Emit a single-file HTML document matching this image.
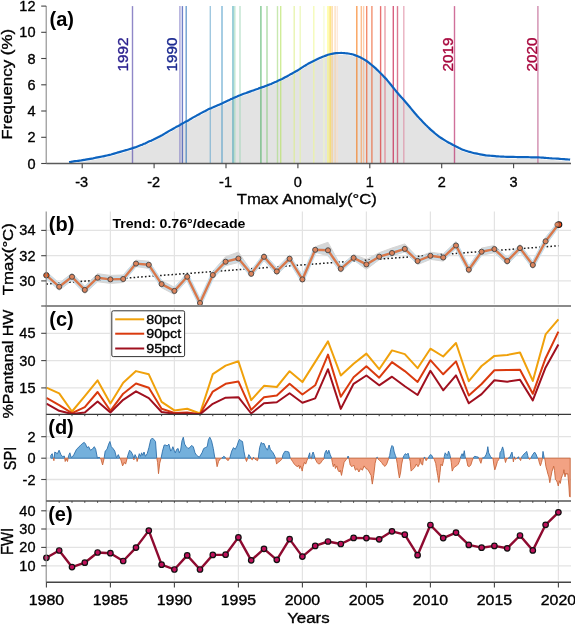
<!DOCTYPE html>
<html><head><meta charset="utf-8"><style>
html,body{margin:0;padding:0;background:#fff;}
svg{display:block;font-family:"Liberation Sans", sans-serif;will-change:transform;}
</style></head><body>
<svg width="575" height="624" viewBox="0 0 575 624">
<rect width="575" height="624" fill="#fff"/>
<path d="M69.1,164.0 C69.6,163.9 71.1,163.7 72.1,163.5 C73.1,163.3 74.1,163.2 75.1,163.0 C76.1,162.9 77.1,162.7 78.1,162.6 C79.1,162.5 80.1,162.3 81.1,162.2 C82.1,162.0 83.1,161.9 84.1,161.7 C85.1,161.5 86.1,161.4 87.1,161.2 C88.1,161.0 89.1,160.8 90.1,160.6 C91.1,160.4 92.1,160.2 93.1,160.1 C94.1,159.9 95.1,159.7 96.1,159.5 C97.1,159.3 98.1,159.1 99.1,158.9 C100.1,158.7 101.1,158.5 102.1,158.3 C103.1,158.1 104.1,158.0 105.1,157.7 C106.1,157.5 107.1,157.3 108.1,157.0 C109.1,156.8 110.1,156.5 111.1,156.3 C112.1,156.0 113.1,155.7 114.1,155.4 C115.1,155.1 116.1,154.8 117.1,154.5 C118.1,154.3 119.1,154.0 120.1,153.7 C121.1,153.4 122.1,153.1 123.1,152.8 C124.1,152.5 125.1,152.2 126.1,151.9 C127.1,151.6 128.1,151.4 129.1,151.1 C130.1,150.8 131.1,150.5 132.1,150.2 C133.1,149.8 134.1,149.5 135.1,149.2 C136.1,148.8 137.1,148.4 138.1,148.0 C139.1,147.7 140.1,147.3 141.1,146.9 C142.1,146.5 143.1,146.0 144.1,145.6 C145.1,145.2 146.1,144.7 147.1,144.3 C148.1,143.9 149.1,143.4 150.1,142.9 C151.1,142.5 152.1,142.0 153.1,141.6 C154.1,141.1 155.1,140.6 156.1,140.1 C157.1,139.6 158.1,139.1 159.1,138.6 C160.1,138.1 161.1,137.5 162.1,137.0 C163.1,136.4 164.1,135.8 165.1,135.2 C166.1,134.6 167.1,134.0 168.1,133.4 C169.1,132.9 170.1,132.3 171.1,131.7 C172.1,131.2 173.1,130.6 174.1,130.0 C175.1,129.5 176.1,128.9 177.1,128.4 C178.1,127.8 179.1,127.2 180.1,126.7 C181.1,126.1 182.1,125.6 183.1,125.0 C184.1,124.5 185.1,123.9 186.1,123.4 C187.1,122.8 188.1,122.2 189.1,121.7 C190.1,121.1 191.1,120.5 192.1,119.9 C193.1,119.4 194.1,118.8 195.1,118.2 C196.1,117.7 197.1,117.1 198.1,116.6 C199.1,116.0 200.1,115.5 201.1,114.9 C202.1,114.4 203.1,113.9 204.1,113.4 C205.1,112.8 206.1,112.3 207.1,111.8 C208.1,111.4 209.1,110.9 210.1,110.4 C211.1,110.0 212.1,109.5 213.1,109.1 C214.1,108.6 215.1,108.2 216.1,107.8 C217.1,107.4 218.1,106.9 219.1,106.5 C220.1,106.1 221.1,105.7 222.1,105.2 C223.1,104.8 224.1,104.4 225.1,103.9 C226.1,103.4 227.1,102.9 228.1,102.4 C229.1,102.0 230.1,101.4 231.1,100.9 C232.1,100.4 233.1,100.0 234.1,99.5 C235.1,99.0 236.1,98.6 237.1,98.2 C238.1,97.7 239.1,97.3 240.1,97.0 C241.1,96.6 242.1,96.2 243.1,95.8 C244.1,95.5 245.1,95.1 246.1,94.8 C247.1,94.4 248.1,94.0 249.1,93.7 C250.1,93.3 251.1,93.0 252.1,92.6 C253.1,92.3 254.1,91.9 255.1,91.5 C256.1,91.2 257.1,90.8 258.1,90.5 C259.1,90.1 260.1,89.8 261.1,89.4 C262.1,89.1 263.1,88.7 264.1,88.4 C265.1,88.0 266.1,87.6 267.1,87.2 C268.1,86.8 269.1,86.5 270.1,86.1 C271.1,85.7 272.1,85.2 273.1,84.8 C274.1,84.4 275.1,83.9 276.1,83.5 C277.1,83.0 278.1,82.6 279.1,82.1 C280.1,81.6 281.1,81.1 282.1,80.7 C283.1,80.2 284.1,79.7 285.1,79.1 C286.1,78.6 287.1,78.1 288.1,77.5 C289.1,77.0 290.1,76.4 291.1,75.9 C292.1,75.3 293.1,74.8 294.1,74.2 C295.1,73.6 296.1,73.1 297.1,72.5 C298.1,71.9 299.1,71.3 300.1,70.6 C301.1,70.0 302.1,69.4 303.1,68.7 C304.1,68.1 305.1,67.4 306.1,66.8 C307.1,66.2 308.1,65.7 309.1,65.1 C310.1,64.6 311.1,64.1 312.1,63.6 C313.1,63.1 314.1,62.6 315.1,62.1 C316.1,61.6 317.1,61.1 318.1,60.6 C319.1,60.1 320.1,59.7 321.1,59.2 C322.1,58.8 323.1,58.3 324.1,58.0 C325.1,57.6 326.1,57.2 327.1,56.9 C328.1,56.5 329.1,56.3 330.1,56.0 C331.1,55.8 332.1,55.6 333.1,55.4 C334.1,55.2 335.1,55.1 336.1,55.0 C337.1,54.9 338.1,54.8 339.1,54.8 C340.1,54.8 341.1,54.7 342.1,54.8 C343.1,54.8 344.1,54.9 345.1,55.0 C346.1,55.0 347.1,55.2 348.1,55.3 C349.1,55.5 350.1,55.6 351.1,55.8 C352.1,56.1 353.1,56.3 354.1,56.7 C355.1,57.0 356.1,57.4 357.1,57.8 C358.1,58.2 359.1,58.6 360.1,59.1 C361.1,59.6 362.1,60.1 363.1,60.7 C364.1,61.3 365.1,61.9 366.1,62.5 C367.1,63.2 368.1,63.9 369.1,64.6 C370.1,65.4 371.1,66.2 372.1,67.1 C373.1,67.9 374.1,68.8 375.1,69.7 C376.1,70.7 377.1,71.6 378.1,72.6 C379.1,73.6 380.1,74.6 381.1,75.6 C382.1,76.6 383.1,77.6 384.1,78.7 C385.1,79.7 386.1,80.8 387.1,81.9 C388.1,83.1 389.1,84.3 390.1,85.5 C391.1,86.7 392.1,88.0 393.1,89.3 C394.1,90.5 395.1,91.8 396.1,93.0 C397.1,94.2 398.1,95.3 399.1,96.5 C400.1,97.6 401.1,98.7 402.1,99.9 C403.1,101.0 404.1,102.1 405.1,103.3 C406.1,104.5 407.1,105.6 408.1,106.8 C409.1,108.0 410.1,109.2 411.1,110.4 C412.1,111.6 413.1,112.8 414.1,114.0 C415.1,115.2 416.1,116.3 417.1,117.5 C418.1,118.6 419.1,119.8 420.1,120.9 C421.1,122.0 422.1,123.0 423.1,124.0 C424.1,125.1 425.1,126.1 426.1,127.1 C427.1,128.0 428.1,129.0 429.1,129.9 C430.1,130.9 431.1,131.8 432.1,132.7 C433.1,133.6 434.1,134.4 435.1,135.3 C436.1,136.1 437.1,136.9 438.1,137.6 C439.1,138.4 440.1,139.1 441.1,139.8 C442.1,140.5 443.1,141.1 444.1,141.7 C445.1,142.4 446.1,142.9 447.1,143.5 C448.1,144.0 449.1,144.5 450.1,145.1 C451.1,145.6 452.1,146.2 453.1,146.8 C454.1,147.3 455.1,147.9 456.1,148.4 C457.1,148.9 458.1,149.4 459.1,149.9 C460.1,150.3 461.1,150.8 462.1,151.2 C463.1,151.6 464.1,151.9 465.1,152.3 C466.1,152.6 467.1,153.0 468.1,153.3 C469.1,153.6 470.1,153.8 471.1,154.1 C472.1,154.4 473.1,154.6 474.1,154.9 C475.1,155.1 476.1,155.3 477.1,155.5 C478.1,155.7 479.1,155.9 480.1,156.1 C481.1,156.3 482.1,156.5 483.1,156.6 C484.1,156.8 485.1,156.9 486.1,157.1 C487.1,157.2 488.1,157.3 489.1,157.4 C490.1,157.5 491.1,157.6 492.1,157.7 C493.1,157.8 494.1,157.9 495.1,158.0 C496.1,158.1 497.1,158.1 498.1,158.2 C499.1,158.3 500.1,158.3 501.1,158.4 C502.1,158.4 503.1,158.4 504.1,158.5 C505.1,158.5 506.1,158.5 507.1,158.6 C508.1,158.6 509.1,158.6 510.1,158.7 C511.1,158.7 512.1,158.7 513.1,158.7 C514.1,158.8 515.1,158.8 516.1,158.8 C517.1,158.8 518.1,158.9 519.1,158.9 C520.1,158.9 521.1,158.9 522.1,158.9 C523.1,158.9 524.1,159.0 525.1,159.0 C526.1,159.0 527.1,159.0 528.1,159.0 C529.1,159.0 530.1,159.1 531.1,159.1 C532.1,159.1 533.1,159.1 534.1,159.1 C535.1,159.2 536.1,159.2 537.1,159.2 C538.1,159.2 539.1,159.3 540.1,159.3 C541.1,159.4 542.1,159.4 543.1,159.5 C544.1,159.6 545.1,159.6 546.1,159.7 C547.1,159.7 548.1,159.8 549.1,159.9 C550.1,159.9 551.1,160.0 552.1,160.1 C553.1,160.1 554.1,160.2 555.1,160.3 C556.1,160.4 557.1,160.5 558.1,160.5 C559.1,160.6 560.1,160.7 561.1,160.8 C562.1,160.8 563.1,160.9 564.1,161.0 C565.1,161.1 566.1,161.2 567.1,161.2 C568.1,161.3 569.6,161.4 570.1,161.5 L570.3,163.5 L69.1,163.5 Z" fill="#e3e3e3" stroke="none"/>
<line x1="132.5" y1="6.1" x2="132.5" y2="163.5" stroke="#5448aa" stroke-width="1.4" stroke-opacity="0.65"/>
<line x1="179.9" y1="6.1" x2="179.9" y2="163.5" stroke="#7973c3" stroke-width="1.4" stroke-opacity="0.65"/>
<line x1="182.4" y1="6.1" x2="182.4" y2="163.5" stroke="#213aaa" stroke-width="1.4" stroke-opacity="0.65"/>
<line x1="186.2" y1="6.1" x2="186.2" y2="163.5" stroke="#216db7" stroke-width="1.4" stroke-opacity="0.65"/>
<line x1="210.3" y1="6.1" x2="210.3" y2="163.5" stroke="#6daacf" stroke-width="1.4" stroke-opacity="0.65"/>
<line x1="222.0" y1="6.1" x2="222.0" y2="163.5" stroke="#3c92c3" stroke-width="1.4" stroke-opacity="0.65"/>
<line x1="233.0" y1="6.1" x2="233.0" y2="163.5" stroke="#2398aa" stroke-width="1.4" stroke-opacity="0.65"/>
<line x1="234.8" y1="6.1" x2="234.8" y2="163.5" stroke="#9ed5b7" stroke-width="1.4" stroke-opacity="0.65"/>
<line x1="240.0" y1="6.1" x2="240.0" y2="163.5" stroke="#9ed5b7" stroke-width="1.4" stroke-opacity="0.65"/>
<line x1="260.9" y1="6.1" x2="260.9" y2="163.5" stroke="#3caa54" stroke-width="1.4" stroke-opacity="0.65"/>
<line x1="267.0" y1="6.1" x2="267.0" y2="163.5" stroke="#85c979" stroke-width="1.4" stroke-opacity="0.65"/>
<line x1="277.5" y1="6.1" x2="277.5" y2="163.5" stroke="#aadc85" stroke-width="1.4" stroke-opacity="0.65"/>
<line x1="280.7" y1="6.1" x2="280.7" y2="163.5" stroke="#b7e261" stroke-width="1.4" stroke-opacity="0.65"/>
<line x1="294.2" y1="6.1" x2="294.2" y2="163.5" stroke="#dcee85" stroke-width="1.4" stroke-opacity="0.65"/>
<line x1="300.2" y1="6.1" x2="300.2" y2="163.5" stroke="#e5f49e" stroke-width="1.4" stroke-opacity="0.65"/>
<line x1="313.8" y1="6.1" x2="313.8" y2="163.5" stroke="#eef792" stroke-width="1.4" stroke-opacity="0.65"/>
<line x1="323.9" y1="6.1" x2="323.9" y2="163.5" stroke="#f1fac3" stroke-width="1.4" stroke-opacity="0.65"/>
<line x1="327.9" y1="6.1" x2="327.9" y2="163.5" stroke="#fdfd67" stroke-width="1.4" stroke-opacity="0.65"/>
<line x1="329.4" y1="6.1" x2="329.4" y2="163.5" stroke="#fde86d" stroke-width="1.4" stroke-opacity="0.65"/>
<line x1="330.6" y1="6.1" x2="330.6" y2="163.5" stroke="#fcd94b" stroke-width="1.4" stroke-opacity="0.65"/>
<line x1="332.2" y1="6.1" x2="332.2" y2="163.5" stroke="#fcc985" stroke-width="1.4" stroke-opacity="0.65"/>
<line x1="335.1" y1="6.1" x2="335.1" y2="163.5" stroke="#fccf9e" stroke-width="1.4" stroke-opacity="0.65"/>
<line x1="337.3" y1="6.1" x2="337.3" y2="163.5" stroke="#fcdfc8" stroke-width="1.4" stroke-opacity="0.65"/>
<line x1="356.8" y1="6.1" x2="356.8" y2="163.5" stroke="#f66d00" stroke-width="1.4" stroke-opacity="0.65"/>
<line x1="361.3" y1="6.1" x2="361.3" y2="163.5" stroke="#fa9e54" stroke-width="1.4" stroke-opacity="0.65"/>
<line x1="363.6" y1="6.1" x2="363.6" y2="163.5" stroke="#fab585" stroke-width="1.4" stroke-opacity="0.65"/>
<line x1="366.7" y1="6.1" x2="366.7" y2="163.5" stroke="#ee4e1d" stroke-width="1.4" stroke-opacity="0.65"/>
<line x1="371.9" y1="6.1" x2="371.9" y2="163.5" stroke="#eb5423" stroke-width="1.4" stroke-opacity="0.65"/>
<line x1="380.6" y1="6.1" x2="380.6" y2="163.5" stroke="#dc2323" stroke-width="1.4" stroke-opacity="0.65"/>
<line x1="385.0" y1="6.1" x2="385.0" y2="163.5" stroke="#df6d79" stroke-width="1.4" stroke-opacity="0.65"/>
<line x1="393.3" y1="6.1" x2="393.3" y2="163.5" stroke="#c30a3c" stroke-width="1.4" stroke-opacity="0.65"/>
<line x1="397.5" y1="6.1" x2="397.5" y2="163.5" stroke="#c92f54" stroke-width="1.4" stroke-opacity="0.65"/>
<line x1="403.8" y1="6.1" x2="403.8" y2="163.5" stroke="#dc859e" stroke-width="1.4" stroke-opacity="0.65"/>
<line x1="454.5" y1="6.1" x2="454.5" y2="163.5" stroke="#b72364" stroke-width="1.4" stroke-opacity="0.65"/>
<line x1="537.9" y1="6.1" x2="537.9" y2="163.5" stroke="#b74e82" stroke-width="1.4" stroke-opacity="0.65"/>
<path d="M69.1,162.2 C69.6,162.1 71.1,161.9 72.1,161.7 C73.1,161.5 74.1,161.4 75.1,161.2 C76.1,161.1 77.1,160.9 78.1,160.8 C79.1,160.7 80.1,160.5 81.1,160.4 C82.1,160.2 83.1,160.1 84.1,159.9 C85.1,159.7 86.1,159.6 87.1,159.4 C88.1,159.2 89.1,159.0 90.1,158.8 C91.1,158.6 92.1,158.4 93.1,158.3 C94.1,158.1 95.1,157.9 96.1,157.7 C97.1,157.5 98.1,157.3 99.1,157.1 C100.1,156.9 101.1,156.7 102.1,156.5 C103.1,156.3 104.1,156.2 105.1,155.9 C106.1,155.7 107.1,155.5 108.1,155.2 C109.1,155.0 110.1,154.7 111.1,154.5 C112.1,154.2 113.1,153.9 114.1,153.6 C115.1,153.3 116.1,153.0 117.1,152.7 C118.1,152.5 119.1,152.2 120.1,151.9 C121.1,151.6 122.1,151.3 123.1,151.0 C124.1,150.7 125.1,150.4 126.1,150.1 C127.1,149.8 128.1,149.6 129.1,149.3 C130.1,149.0 131.1,148.7 132.1,148.4 C133.1,148.0 134.1,147.7 135.1,147.4 C136.1,147.0 137.1,146.6 138.1,146.2 C139.1,145.9 140.1,145.5 141.1,145.1 C142.1,144.7 143.1,144.2 144.1,143.8 C145.1,143.4 146.1,142.9 147.1,142.5 C148.1,142.1 149.1,141.6 150.1,141.1 C151.1,140.7 152.1,140.2 153.1,139.8 C154.1,139.3 155.1,138.8 156.1,138.3 C157.1,137.8 158.1,137.3 159.1,136.8 C160.1,136.3 161.1,135.7 162.1,135.2 C163.1,134.6 164.1,134.0 165.1,133.4 C166.1,132.8 167.1,132.2 168.1,131.6 C169.1,131.1 170.1,130.5 171.1,129.9 C172.1,129.4 173.1,128.8 174.1,128.2 C175.1,127.7 176.1,127.1 177.1,126.6 C178.1,126.0 179.1,125.4 180.1,124.9 C181.1,124.3 182.1,123.8 183.1,123.2 C184.1,122.7 185.1,122.1 186.1,121.6 C187.1,121.0 188.1,120.4 189.1,119.9 C190.1,119.3 191.1,118.7 192.1,118.1 C193.1,117.6 194.1,117.0 195.1,116.4 C196.1,115.9 197.1,115.3 198.1,114.8 C199.1,114.2 200.1,113.7 201.1,113.1 C202.1,112.6 203.1,112.1 204.1,111.6 C205.1,111.0 206.1,110.5 207.1,110.0 C208.1,109.6 209.1,109.1 210.1,108.6 C211.1,108.2 212.1,107.7 213.1,107.3 C214.1,106.8 215.1,106.4 216.1,106.0 C217.1,105.6 218.1,105.1 219.1,104.7 C220.1,104.3 221.1,103.9 222.1,103.4 C223.1,103.0 224.1,102.6 225.1,102.1 C226.1,101.6 227.1,101.1 228.1,100.6 C229.1,100.2 230.1,99.6 231.1,99.1 C232.1,98.6 233.1,98.2 234.1,97.7 C235.1,97.2 236.1,96.8 237.1,96.4 C238.1,95.9 239.1,95.5 240.1,95.2 C241.1,94.8 242.1,94.4 243.1,94.0 C244.1,93.7 245.1,93.3 246.1,93.0 C247.1,92.6 248.1,92.2 249.1,91.9 C250.1,91.5 251.1,91.2 252.1,90.8 C253.1,90.5 254.1,90.1 255.1,89.7 C256.1,89.4 257.1,89.0 258.1,88.7 C259.1,88.3 260.1,88.0 261.1,87.6 C262.1,87.3 263.1,86.9 264.1,86.6 C265.1,86.2 266.1,85.8 267.1,85.4 C268.1,85.0 269.1,84.7 270.1,84.3 C271.1,83.9 272.1,83.4 273.1,83.0 C274.1,82.6 275.1,82.1 276.1,81.7 C277.1,81.2 278.1,80.8 279.1,80.3 C280.1,79.8 281.1,79.3 282.1,78.9 C283.1,78.4 284.1,77.9 285.1,77.3 C286.1,76.8 287.1,76.3 288.1,75.7 C289.1,75.2 290.1,74.6 291.1,74.1 C292.1,73.5 293.1,73.0 294.1,72.4 C295.1,71.8 296.1,71.3 297.1,70.7 C298.1,70.1 299.1,69.5 300.1,68.8 C301.1,68.2 302.1,67.6 303.1,66.9 C304.1,66.3 305.1,65.6 306.1,65.0 C307.1,64.4 308.1,63.9 309.1,63.3 C310.1,62.8 311.1,62.3 312.1,61.8 C313.1,61.3 314.1,60.8 315.1,60.3 C316.1,59.8 317.1,59.3 318.1,58.8 C319.1,58.3 320.1,57.9 321.1,57.4 C322.1,57.0 323.1,56.5 324.1,56.2 C325.1,55.8 326.1,55.4 327.1,55.1 C328.1,54.7 329.1,54.5 330.1,54.2 C331.1,54.0 332.1,53.8 333.1,53.6 C334.1,53.4 335.1,53.3 336.1,53.2 C337.1,53.1 338.1,53.0 339.1,53.0 C340.1,53.0 341.1,52.9 342.1,53.0 C343.1,53.0 344.1,53.1 345.1,53.2 C346.1,53.2 347.1,53.4 348.1,53.5 C349.1,53.7 350.1,53.8 351.1,54.0 C352.1,54.3 353.1,54.5 354.1,54.9 C355.1,55.2 356.1,55.6 357.1,56.0 C358.1,56.4 359.1,56.8 360.1,57.3 C361.1,57.8 362.1,58.3 363.1,58.9 C364.1,59.5 365.1,60.1 366.1,60.7 C367.1,61.4 368.1,62.1 369.1,62.8 C370.1,63.6 371.1,64.4 372.1,65.3 C373.1,66.1 374.1,67.0 375.1,67.9 C376.1,68.9 377.1,69.8 378.1,70.8 C379.1,71.8 380.1,72.8 381.1,73.8 C382.1,74.8 383.1,75.8 384.1,76.9 C385.1,77.9 386.1,79.0 387.1,80.1 C388.1,81.3 389.1,82.5 390.1,83.7 C391.1,84.9 392.1,86.2 393.1,87.5 C394.1,88.7 395.1,90.0 396.1,91.2 C397.1,92.4 398.1,93.5 399.1,94.7 C400.1,95.8 401.1,96.9 402.1,98.1 C403.1,99.2 404.1,100.3 405.1,101.5 C406.1,102.7 407.1,103.8 408.1,105.0 C409.1,106.2 410.1,107.4 411.1,108.6 C412.1,109.8 413.1,111.0 414.1,112.2 C415.1,113.4 416.1,114.5 417.1,115.7 C418.1,116.8 419.1,118.0 420.1,119.1 C421.1,120.2 422.1,121.2 423.1,122.2 C424.1,123.3 425.1,124.3 426.1,125.3 C427.1,126.2 428.1,127.2 429.1,128.1 C430.1,129.1 431.1,130.0 432.1,130.9 C433.1,131.8 434.1,132.6 435.1,133.5 C436.1,134.3 437.1,135.1 438.1,135.8 C439.1,136.6 440.1,137.3 441.1,138.0 C442.1,138.7 443.1,139.3 444.1,139.9 C445.1,140.6 446.1,141.1 447.1,141.7 C448.1,142.2 449.1,142.7 450.1,143.3 C451.1,143.8 452.1,144.4 453.1,145.0 C454.1,145.5 455.1,146.1 456.1,146.6 C457.1,147.1 458.1,147.6 459.1,148.1 C460.1,148.5 461.1,149.0 462.1,149.4 C463.1,149.8 464.1,150.1 465.1,150.5 C466.1,150.8 467.1,151.2 468.1,151.5 C469.1,151.8 470.1,152.0 471.1,152.3 C472.1,152.6 473.1,152.8 474.1,153.1 C475.1,153.3 476.1,153.5 477.1,153.7 C478.1,153.9 479.1,154.1 480.1,154.3 C481.1,154.5 482.1,154.7 483.1,154.8 C484.1,155.0 485.1,155.1 486.1,155.3 C487.1,155.4 488.1,155.5 489.1,155.6 C490.1,155.7 491.1,155.8 492.1,155.9 C493.1,156.0 494.1,156.1 495.1,156.2 C496.1,156.3 497.1,156.3 498.1,156.4 C499.1,156.5 500.1,156.5 501.1,156.6 C502.1,156.6 503.1,156.6 504.1,156.7 C505.1,156.7 506.1,156.7 507.1,156.8 C508.1,156.8 509.1,156.8 510.1,156.9 C511.1,156.9 512.1,156.9 513.1,156.9 C514.1,157.0 515.1,157.0 516.1,157.0 C517.1,157.0 518.1,157.1 519.1,157.1 C520.1,157.1 521.1,157.1 522.1,157.1 C523.1,157.1 524.1,157.2 525.1,157.2 C526.1,157.2 527.1,157.2 528.1,157.2 C529.1,157.2 530.1,157.3 531.1,157.3 C532.1,157.3 533.1,157.3 534.1,157.3 C535.1,157.4 536.1,157.4 537.1,157.4 C538.1,157.4 539.1,157.5 540.1,157.5 C541.1,157.6 542.1,157.6 543.1,157.7 C544.1,157.8 545.1,157.8 546.1,157.9 C547.1,157.9 548.1,158.0 549.1,158.1 C550.1,158.1 551.1,158.2 552.1,158.3 C553.1,158.3 554.1,158.4 555.1,158.5 C556.1,158.6 557.1,158.7 558.1,158.7 C559.1,158.8 560.1,158.9 561.1,159.0 C562.1,159.0 563.1,159.1 564.1,159.2 C565.1,159.3 566.1,159.4 567.1,159.4 C568.1,159.5 569.6,159.6 570.1,159.7" fill="none" stroke="#0d63bf" stroke-width="2.2"/>
<text x="128.0" y="54.4" font-size="14.5" text-anchor="middle" font-weight="normal" fill="#2a1f8e" stroke="#2a1f8e" stroke-width="0.35" transform="rotate(-90 128.0 54.4)" textLength="34" lengthAdjust="spacingAndGlyphs">1992</text>
<text x="177.1" y="54.4" font-size="14.5" text-anchor="middle" font-weight="normal" fill="#1c2b91" stroke="#1c2b91" stroke-width="0.35" transform="rotate(-90 177.1 54.4)" textLength="34" lengthAdjust="spacingAndGlyphs">1990</text>
<text x="453.2" y="54.4" font-size="14.5" text-anchor="middle" font-weight="normal" fill="#a8083e" stroke="#a8083e" stroke-width="0.35" transform="rotate(-90 453.2 54.4)" textLength="34" lengthAdjust="spacingAndGlyphs">2019</text>
<text x="537.1" y="54.4" font-size="14.5" text-anchor="middle" font-weight="normal" fill="#a8083e" stroke="#a8083e" stroke-width="0.35" transform="rotate(-90 537.1 54.4)" textLength="34" lengthAdjust="spacingAndGlyphs">2020</text>
<line x1="46.2" y1="6.1" x2="46.2" y2="163.5" stroke="#8a8a8a" stroke-width="1.1"/>
<line x1="46.2" y1="163.5" x2="571.0" y2="163.5" stroke="#5a5a5a" stroke-width="1.3"/>
<line x1="41.2" y1="163.5" x2="46.2" y2="163.5" stroke="#444" stroke-width="1.1"/>
<text x="35.5" y="168.5" font-size="14.5" text-anchor="end" font-weight="normal" fill="#000" stroke="#000" stroke-width="0.35">0</text>
<line x1="41.2" y1="137.3" x2="46.2" y2="137.3" stroke="#444" stroke-width="1.1"/>
<text x="35.5" y="142.3" font-size="14.5" text-anchor="end" font-weight="normal" fill="#000" stroke="#000" stroke-width="0.35">2</text>
<line x1="41.2" y1="111.0" x2="46.2" y2="111.0" stroke="#444" stroke-width="1.1"/>
<text x="35.5" y="116.0" font-size="14.5" text-anchor="end" font-weight="normal" fill="#000" stroke="#000" stroke-width="0.35">4</text>
<line x1="41.2" y1="84.8" x2="46.2" y2="84.8" stroke="#444" stroke-width="1.1"/>
<text x="35.5" y="89.8" font-size="14.5" text-anchor="end" font-weight="normal" fill="#000" stroke="#000" stroke-width="0.35">6</text>
<line x1="41.2" y1="58.5" x2="46.2" y2="58.5" stroke="#444" stroke-width="1.1"/>
<text x="35.5" y="63.5" font-size="14.5" text-anchor="end" font-weight="normal" fill="#000" stroke="#000" stroke-width="0.35">8</text>
<line x1="41.2" y1="32.3" x2="46.2" y2="32.3" stroke="#444" stroke-width="1.1"/>
<text x="35.5" y="37.3" font-size="14.5" text-anchor="end" font-weight="normal" fill="#000" stroke="#000" stroke-width="0.35">10</text>
<line x1="41.2" y1="6.1" x2="46.2" y2="6.1" stroke="#444" stroke-width="1.1"/>
<text x="35.5" y="11.1" font-size="14.5" text-anchor="end" font-weight="normal" fill="#000" stroke="#000" stroke-width="0.35">12</text>
<line x1="82.2" y1="163.5" x2="82.2" y2="168.3" stroke="#444" stroke-width="1.1"/>
<text x="81.7" y="187.2" font-size="14.5" text-anchor="middle" font-weight="normal" fill="#000" stroke="#000" stroke-width="0.35">-3</text>
<line x1="154.1" y1="163.5" x2="154.1" y2="168.3" stroke="#444" stroke-width="1.1"/>
<text x="153.6" y="187.2" font-size="14.5" text-anchor="middle" font-weight="normal" fill="#000" stroke="#000" stroke-width="0.35">-2</text>
<line x1="226.0" y1="163.5" x2="226.0" y2="168.3" stroke="#444" stroke-width="1.1"/>
<text x="225.5" y="187.2" font-size="14.5" text-anchor="middle" font-weight="normal" fill="#000" stroke="#000" stroke-width="0.35">-1</text>
<line x1="297.9" y1="163.5" x2="297.9" y2="168.3" stroke="#444" stroke-width="1.1"/>
<text x="297.9" y="187.2" font-size="14.5" text-anchor="middle" font-weight="normal" fill="#000" stroke="#000" stroke-width="0.35">0</text>
<line x1="369.8" y1="163.5" x2="369.8" y2="168.3" stroke="#444" stroke-width="1.1"/>
<text x="369.8" y="187.2" font-size="14.5" text-anchor="middle" font-weight="normal" fill="#000" stroke="#000" stroke-width="0.35">1</text>
<line x1="441.7" y1="163.5" x2="441.7" y2="168.3" stroke="#444" stroke-width="1.1"/>
<text x="441.7" y="187.2" font-size="14.5" text-anchor="middle" font-weight="normal" fill="#000" stroke="#000" stroke-width="0.35">2</text>
<line x1="513.6" y1="163.5" x2="513.6" y2="168.3" stroke="#444" stroke-width="1.1"/>
<text x="513.6" y="187.2" font-size="14.5" text-anchor="middle" font-weight="normal" fill="#000" stroke="#000" stroke-width="0.35">3</text>
<text x="306.8" y="204.0" font-size="15.5" text-anchor="middle" font-weight="normal" fill="#000" stroke="#000" stroke-width="0.35" textLength="140" lengthAdjust="spacingAndGlyphs">Tmax Anomaly(°C)</text>
<text x="12.5" y="84.3" font-size="15.5" text-anchor="middle" font-weight="normal" fill="#000" stroke="#000" stroke-width="0.35" transform="rotate(-90 12.5 84.3)" textLength="111" lengthAdjust="spacingAndGlyphs">Frequency (%)</text>
<text x="61.8" y="25.7" font-size="20" text-anchor="middle" font-weight="bold" fill="#000">(a)</text>
<line x1="110.4" y1="211.5" x2="110.4" y2="304.2" stroke="#e3e3e3" stroke-width="1.2"/>
<line x1="174.4" y1="211.5" x2="174.4" y2="304.2" stroke="#e3e3e3" stroke-width="1.2"/>
<line x1="238.4" y1="211.5" x2="238.4" y2="304.2" stroke="#e3e3e3" stroke-width="1.2"/>
<line x1="302.4" y1="211.5" x2="302.4" y2="304.2" stroke="#e3e3e3" stroke-width="1.2"/>
<line x1="366.4" y1="211.5" x2="366.4" y2="304.2" stroke="#e3e3e3" stroke-width="1.2"/>
<line x1="430.4" y1="211.5" x2="430.4" y2="304.2" stroke="#e3e3e3" stroke-width="1.2"/>
<line x1="494.4" y1="211.5" x2="494.4" y2="304.2" stroke="#e3e3e3" stroke-width="1.2"/>
<line x1="558.4" y1="211.5" x2="558.4" y2="304.2" stroke="#e3e3e3" stroke-width="1.2"/>
<line x1="110.4" y1="307.8" x2="110.4" y2="412.6" stroke="#e3e3e3" stroke-width="1.2"/>
<line x1="174.4" y1="307.8" x2="174.4" y2="412.6" stroke="#e3e3e3" stroke-width="1.2"/>
<line x1="238.4" y1="307.8" x2="238.4" y2="412.6" stroke="#e3e3e3" stroke-width="1.2"/>
<line x1="302.4" y1="307.8" x2="302.4" y2="412.6" stroke="#e3e3e3" stroke-width="1.2"/>
<line x1="366.4" y1="307.8" x2="366.4" y2="412.6" stroke="#e3e3e3" stroke-width="1.2"/>
<line x1="430.4" y1="307.8" x2="430.4" y2="412.6" stroke="#e3e3e3" stroke-width="1.2"/>
<line x1="494.4" y1="307.8" x2="494.4" y2="412.6" stroke="#e3e3e3" stroke-width="1.2"/>
<line x1="558.4" y1="307.8" x2="558.4" y2="412.6" stroke="#e3e3e3" stroke-width="1.2"/>
<line x1="110.4" y1="416.2" x2="110.4" y2="499.2" stroke="#e3e3e3" stroke-width="1.2"/>
<line x1="174.4" y1="416.2" x2="174.4" y2="499.2" stroke="#e3e3e3" stroke-width="1.2"/>
<line x1="238.4" y1="416.2" x2="238.4" y2="499.2" stroke="#e3e3e3" stroke-width="1.2"/>
<line x1="302.4" y1="416.2" x2="302.4" y2="499.2" stroke="#e3e3e3" stroke-width="1.2"/>
<line x1="366.4" y1="416.2" x2="366.4" y2="499.2" stroke="#e3e3e3" stroke-width="1.2"/>
<line x1="430.4" y1="416.2" x2="430.4" y2="499.2" stroke="#e3e3e3" stroke-width="1.2"/>
<line x1="494.4" y1="416.2" x2="494.4" y2="499.2" stroke="#e3e3e3" stroke-width="1.2"/>
<line x1="558.4" y1="416.2" x2="558.4" y2="499.2" stroke="#e3e3e3" stroke-width="1.2"/>
<line x1="110.4" y1="502.8" x2="110.4" y2="580.4" stroke="#e3e3e3" stroke-width="1.2"/>
<line x1="174.4" y1="502.8" x2="174.4" y2="580.4" stroke="#e3e3e3" stroke-width="1.2"/>
<line x1="238.4" y1="502.8" x2="238.4" y2="580.4" stroke="#e3e3e3" stroke-width="1.2"/>
<line x1="302.4" y1="502.8" x2="302.4" y2="580.4" stroke="#e3e3e3" stroke-width="1.2"/>
<line x1="366.4" y1="502.8" x2="366.4" y2="580.4" stroke="#e3e3e3" stroke-width="1.2"/>
<line x1="430.4" y1="502.8" x2="430.4" y2="580.4" stroke="#e3e3e3" stroke-width="1.2"/>
<line x1="494.4" y1="502.8" x2="494.4" y2="580.4" stroke="#e3e3e3" stroke-width="1.2"/>
<line x1="558.4" y1="502.8" x2="558.4" y2="580.4" stroke="#e3e3e3" stroke-width="1.2"/>
<line x1="46.4" y1="230.4" x2="571.0" y2="230.4" stroke="#e3e3e3" stroke-width="1.3"/>
<line x1="46.4" y1="255.7" x2="571.0" y2="255.7" stroke="#e3e3e3" stroke-width="1.3"/>
<line x1="46.4" y1="280.9" x2="571.0" y2="280.9" stroke="#e3e3e3" stroke-width="1.3"/>
<line x1="46.4" y1="333.3" x2="571.0" y2="333.3" stroke="#e3e3e3" stroke-width="1.3"/>
<line x1="46.4" y1="360.6" x2="571.0" y2="360.6" stroke="#e3e3e3" stroke-width="1.3"/>
<line x1="46.4" y1="387.9" x2="571.0" y2="387.9" stroke="#e3e3e3" stroke-width="1.3"/>
<line x1="46.4" y1="436.7" x2="571.0" y2="436.7" stroke="#e3e3e3" stroke-width="1.3"/>
<line x1="46.4" y1="458.2" x2="571.0" y2="458.2" stroke="#e3e3e3" stroke-width="1.3"/>
<line x1="46.4" y1="479.5" x2="571.0" y2="479.5" stroke="#e3e3e3" stroke-width="1.3"/>
<line x1="46.4" y1="510.8" x2="571.0" y2="510.8" stroke="#e3e3e3" stroke-width="1.3"/>
<line x1="46.4" y1="529.0" x2="571.0" y2="529.0" stroke="#e3e3e3" stroke-width="1.3"/>
<line x1="46.4" y1="547.4" x2="571.0" y2="547.4" stroke="#e3e3e3" stroke-width="1.3"/>
<line x1="46.4" y1="565.8" x2="571.0" y2="565.8" stroke="#e3e3e3" stroke-width="1.3"/>
<path d="M46.4,271.7 L59.2,283.1 L72.0,273.2 L84.8,286.3 L97.6,273.7 L110.4,275.4 L123.2,275.0 L136.0,260.1 L148.8,261.2 L161.6,280.5 L174.4,287.3 L187.2,273.1 L200.0,299.4 L212.8,271.4 L225.6,256.7 L238.4,252.0 L251.2,270.8 L264.0,253.2 L276.8,267.8 L289.6,255.1 L302.4,275.8 L315.2,246.8 L328.0,242.3 L340.8,265.8 L353.6,254.4 L366.4,259.4 L379.2,252.7 L392.0,248.0 L404.8,243.9 L417.6,257.4 L430.4,252.2 L443.2,253.9 L456.0,241.5 L468.8,266.1 L481.6,248.1 L494.4,245.5 L507.2,257.5 L520.0,244.5 L532.8,261.4 L545.6,237.3 L558.4,221.6 L558.4,227.6 L545.6,245.3 L532.8,268.6 L520.0,251.7 L507.2,264.7 L494.4,252.7 L481.6,255.3 L468.8,273.3 L456.0,248.5 L443.2,261.1 L430.4,259.4 L417.6,264.6 L404.8,251.9 L392.0,256.0 L379.2,259.7 L366.4,269.4 L353.6,259.9 L340.8,272.3 L328.0,255.8 L315.2,252.3 L302.4,283.0 L289.6,262.3 L276.8,275.0 L264.0,260.4 L251.2,276.8 L238.4,262.5 L225.6,265.7 L212.8,278.6 L200.0,306.6 L187.2,280.3 L174.4,294.5 L161.6,287.7 L148.8,268.4 L136.0,266.6 L123.2,282.5 L110.4,283.4 L97.6,281.7 L84.8,293.5 L72.0,280.4 L59.2,290.3 L46.4,278.9 Z" fill="#d6d6d6" stroke="#d6d6d6" stroke-width="1" stroke-linejoin="round"/>
<line x1="46.4" y1="284.0" x2="558.4" y2="245.8" stroke="#1a1a1a" stroke-width="1.5" stroke-dasharray="1.6 2.2"/>
<polyline points="46.4,275.3 59.2,286.7 72.0,276.8 84.8,289.9 97.6,277.7 110.4,279.4 123.2,279.0 136.0,263.6 148.8,264.8 161.6,284.1 174.4,290.9 187.2,276.7 200.0,303.0 212.8,275.0 225.6,261.7 238.4,258.5 251.2,273.8 264.0,256.8 276.8,271.4 289.6,258.7 302.4,279.4 315.2,249.8 328.0,250.3 340.8,268.8 353.6,257.9 366.4,264.4 379.2,256.7 392.0,253.0 404.8,248.9 417.6,261.0 430.4,255.8 443.2,257.5 456.0,245.5 468.8,269.7 481.6,251.7 494.4,249.1 507.2,261.1 520.0,248.1 532.8,265.0 545.6,241.3 558.4,224.6" fill="none" stroke="#c6dfed" stroke-width="5.0" stroke-linejoin="round"/>
<polyline points="46.4,275.3 59.2,286.7 72.0,276.8 84.8,289.9 97.6,277.7 110.4,279.4 123.2,279.0 136.0,263.6 148.8,264.8 161.6,284.1 174.4,290.9 187.2,276.7 200.0,303.0 212.8,275.0 225.6,261.7 238.4,258.5 251.2,273.8 264.0,256.8 276.8,271.4 289.6,258.7 302.4,279.4 315.2,249.8 328.0,250.3 340.8,268.8 353.6,257.9 366.4,264.4 379.2,256.7 392.0,253.0 404.8,248.9 417.6,261.0 430.4,255.8 443.2,257.5 456.0,245.5 468.8,269.7 481.6,251.7 494.4,249.1 507.2,261.1 520.0,248.1 532.8,265.0 545.6,241.3 558.4,224.6" fill="none" stroke="#d9784b" stroke-width="2.4" stroke-linejoin="round"/>
<circle cx="46.4" cy="275.3" r="2.7" fill="#f05a18" stroke="#3a3a3a" stroke-width="1"/>
<circle cx="59.2" cy="286.7" r="2.55" fill="#dc845c" stroke="#4a4a4a" stroke-width="0.95"/>
<circle cx="72.0" cy="276.8" r="2.55" fill="#dc845c" stroke="#4a4a4a" stroke-width="0.95"/>
<circle cx="84.8" cy="289.9" r="2.55" fill="#dc845c" stroke="#4a4a4a" stroke-width="0.95"/>
<circle cx="97.6" cy="277.7" r="2.55" fill="#dc845c" stroke="#4a4a4a" stroke-width="0.95"/>
<circle cx="110.4" cy="279.4" r="2.55" fill="#dc845c" stroke="#4a4a4a" stroke-width="0.95"/>
<circle cx="123.2" cy="279.0" r="2.55" fill="#dc845c" stroke="#4a4a4a" stroke-width="0.95"/>
<circle cx="136.0" cy="263.6" r="2.55" fill="#dc845c" stroke="#4a4a4a" stroke-width="0.95"/>
<circle cx="148.8" cy="264.8" r="2.55" fill="#dc845c" stroke="#4a4a4a" stroke-width="0.95"/>
<circle cx="161.6" cy="284.1" r="2.55" fill="#dc845c" stroke="#4a4a4a" stroke-width="0.95"/>
<circle cx="174.4" cy="290.9" r="2.55" fill="#dc845c" stroke="#4a4a4a" stroke-width="0.95"/>
<circle cx="187.2" cy="276.7" r="2.55" fill="#dc845c" stroke="#4a4a4a" stroke-width="0.95"/>
<circle cx="200.0" cy="303.0" r="2.55" fill="#dc845c" stroke="#4a4a4a" stroke-width="0.95"/>
<circle cx="212.8" cy="275.0" r="2.55" fill="#dc845c" stroke="#4a4a4a" stroke-width="0.95"/>
<circle cx="225.6" cy="261.7" r="2.55" fill="#dc845c" stroke="#4a4a4a" stroke-width="0.95"/>
<circle cx="238.4" cy="258.5" r="2.55" fill="#dc845c" stroke="#4a4a4a" stroke-width="0.95"/>
<circle cx="251.2" cy="273.8" r="2.55" fill="#dc845c" stroke="#4a4a4a" stroke-width="0.95"/>
<circle cx="264.0" cy="256.8" r="2.55" fill="#dc845c" stroke="#4a4a4a" stroke-width="0.95"/>
<circle cx="276.8" cy="271.4" r="2.55" fill="#dc845c" stroke="#4a4a4a" stroke-width="0.95"/>
<circle cx="289.6" cy="258.7" r="2.55" fill="#dc845c" stroke="#4a4a4a" stroke-width="0.95"/>
<circle cx="302.4" cy="279.4" r="2.55" fill="#dc845c" stroke="#4a4a4a" stroke-width="0.95"/>
<circle cx="315.2" cy="249.8" r="2.55" fill="#dc845c" stroke="#4a4a4a" stroke-width="0.95"/>
<circle cx="328.0" cy="250.3" r="2.55" fill="#dc845c" stroke="#4a4a4a" stroke-width="0.95"/>
<circle cx="340.8" cy="268.8" r="2.55" fill="#dc845c" stroke="#4a4a4a" stroke-width="0.95"/>
<circle cx="353.6" cy="257.9" r="2.55" fill="#dc845c" stroke="#4a4a4a" stroke-width="0.95"/>
<circle cx="366.4" cy="264.4" r="2.55" fill="#dc845c" stroke="#4a4a4a" stroke-width="0.95"/>
<circle cx="379.2" cy="256.7" r="2.55" fill="#dc845c" stroke="#4a4a4a" stroke-width="0.95"/>
<circle cx="392.0" cy="253.0" r="2.55" fill="#dc845c" stroke="#4a4a4a" stroke-width="0.95"/>
<circle cx="404.8" cy="248.9" r="2.55" fill="#dc845c" stroke="#4a4a4a" stroke-width="0.95"/>
<circle cx="417.6" cy="261.0" r="2.55" fill="#dc845c" stroke="#4a4a4a" stroke-width="0.95"/>
<circle cx="430.4" cy="255.8" r="2.55" fill="#dc845c" stroke="#4a4a4a" stroke-width="0.95"/>
<circle cx="443.2" cy="257.5" r="2.55" fill="#dc845c" stroke="#4a4a4a" stroke-width="0.95"/>
<circle cx="456.0" cy="245.5" r="2.55" fill="#dc845c" stroke="#4a4a4a" stroke-width="0.95"/>
<circle cx="468.8" cy="269.7" r="2.55" fill="#dc845c" stroke="#4a4a4a" stroke-width="0.95"/>
<circle cx="481.6" cy="251.7" r="2.55" fill="#dc845c" stroke="#4a4a4a" stroke-width="0.95"/>
<circle cx="494.4" cy="249.1" r="2.55" fill="#dc845c" stroke="#4a4a4a" stroke-width="0.95"/>
<circle cx="507.2" cy="261.1" r="2.55" fill="#dc845c" stroke="#4a4a4a" stroke-width="0.95"/>
<circle cx="520.0" cy="248.1" r="2.55" fill="#dc845c" stroke="#4a4a4a" stroke-width="0.95"/>
<circle cx="532.8" cy="265.0" r="2.55" fill="#dc845c" stroke="#4a4a4a" stroke-width="0.95"/>
<circle cx="545.6" cy="241.3" r="2.55" fill="#dc845c" stroke="#4a4a4a" stroke-width="0.95"/>
<circle cx="558.9" cy="224.6" r="2.9" fill="#ff4a10" stroke="#1a1a1a" stroke-width="1.1"/>
<circle cx="557.1" cy="224.6" r="2.3" fill="#dc845c" stroke="#555" stroke-width="0.6"/>
<text x="178.9" y="228.2" font-size="12.2" text-anchor="middle" font-weight="bold" fill="#000" textLength="133" lengthAdjust="spacingAndGlyphs">Trend: 0.76°/decade</text>
<text x="61.6" y="230.5" font-size="20" text-anchor="middle" font-weight="bold" fill="#000">(b)</text>
<clipPath id="cc"><rect x="46" y="306" width="526" height="108.4"/></clipPath>
<polyline points="46.4,387.7 59.2,393.3 72.0,411.5 84.8,396.2 97.6,380.4 110.4,403.5 123.2,382.8 136.0,371.1 148.8,374.3 161.6,401.8 174.4,410.4 187.2,408.7 200.0,413.5 212.8,374.1 225.6,365.6 238.4,361.2 251.2,400.1 264.0,385.8 276.8,387.0 289.6,371.2 302.4,382.1 315.2,361.9 328.0,341.4 340.8,375.5 353.6,363.8 366.4,353.6 379.2,369.2 392.0,350.4 404.8,354.1 417.6,368.2 430.4,348.7 443.2,356.5 456.0,343.0 468.8,381.2 481.6,366.0 494.4,355.9 507.2,355.0 520.0,352.5 532.8,380.9 545.6,334.4 558.4,319.3" fill="none" stroke="#f0a10b" stroke-width="2" stroke-linejoin="round" clip-path="url(#cc)"/>
<polyline points="46.4,397.9 59.2,405.2 72.0,413.2 84.8,407.1 97.6,392.0 110.4,410.8 123.2,393.7 136.0,383.5 148.8,387.7 161.6,408.8 174.4,412.9 187.2,412.6 200.0,414.3 212.8,391.6 225.6,383.8 238.4,381.4 251.2,409.9 264.0,397.2 276.8,395.5 289.6,383.8 302.4,394.5 315.2,385.3 328.0,354.6 340.8,396.7 353.6,377.2 366.4,366.3 379.2,377.7 392.0,362.1 404.8,371.1 417.6,381.9 430.4,360.2 443.2,374.3 456.0,361.4 468.8,395.5 481.6,384.0 494.4,370.3 507.2,370.0 520.0,369.7 532.8,393.8 545.6,358.2 558.4,331.6" fill="none" stroke="#da3a0e" stroke-width="2" stroke-linejoin="round" clip-path="url(#cc)"/>
<polyline points="46.4,403.5 59.2,410.8 72.0,414.0 84.8,412.5 97.6,401.5 110.4,412.5 123.2,399.8 136.0,391.3 148.8,398.1 161.6,412.0 174.4,413.7 187.2,413.5 200.0,414.3 212.8,403.8 225.6,397.7 238.4,397.2 251.2,413.5 264.0,403.3 276.8,402.3 289.6,393.3 302.4,402.8 315.2,398.4 328.0,369.2 340.8,408.9 353.6,383.8 366.4,375.5 379.2,385.3 392.0,376.7 404.8,386.2 417.6,395.0 430.4,370.8 443.2,390.3 456.0,375.4 468.8,403.3 481.6,394.1 494.4,380.3 507.2,381.7 520.0,379.7 532.8,400.4 545.6,367.4 558.4,344.4" fill="none" stroke="#a0101f" stroke-width="2" stroke-linejoin="round" clip-path="url(#cc)"/>
<rect x="111.8" y="310.8" width="72.8" height="45.8" rx="1.5" fill="#fff" stroke="#333" stroke-width="1"/>
<line x1="115.2" y1="319.3" x2="144.2" y2="319.3" stroke="#f0a10b" stroke-width="2"/>
<text x="146.2" y="323.9" font-size="12.6" text-anchor="start" font-weight="normal" fill="#000" stroke="#000" stroke-width="0.35" textLength="35" lengthAdjust="spacingAndGlyphs">80pct</text>
<line x1="115.2" y1="333.7" x2="144.2" y2="333.7" stroke="#da3a0e" stroke-width="2"/>
<text x="146.2" y="338.3" font-size="12.6" text-anchor="start" font-weight="normal" fill="#000" stroke="#000" stroke-width="0.35" textLength="35" lengthAdjust="spacingAndGlyphs">90pct</text>
<line x1="115.2" y1="348.5" x2="144.2" y2="348.5" stroke="#a0101f" stroke-width="2"/>
<text x="146.2" y="353.1" font-size="12.6" text-anchor="start" font-weight="normal" fill="#000" stroke="#000" stroke-width="0.35" textLength="35" lengthAdjust="spacingAndGlyphs">95pct</text>
<text x="61.5" y="325.8" font-size="20" text-anchor="middle" font-weight="bold" fill="#000">(c)</text>
<path d="M50.8,458.2 L50.8,455.4 L52.2,453.7 L53.0,457.2 L53.3,458.2Z M54.2,458.2 L54.8,452.0 L56.0,452.8 L57.4,453.7 L59.1,450.2 L60.9,454.6 L62.6,456.7 L64.3,456.0 L64.7,458.2Z M68.1,458.2 L68.7,455.4 L69.9,452.8 L71.0,457.2 L72.2,457.2 L73.9,454.6 L76.5,449.3 L80.0,445.9 L82.6,443.3 L84.3,442.4 L85.6,444.1 L87.0,447.6 L88.7,446.7 L90.4,450.2 L92.2,449.3 L94.3,446.7 L95.7,449.3 L97.4,458.0 L99.1,457.2 L100.2,458.2Z M104.1,458.2 L105.2,451.1 L107.0,449.3 L108.7,444.1 L109.9,441.5 L111.3,446.7 L113.0,448.5 L114.8,451.1 L116.5,457.7 L118.3,454.6 L119.7,458.0 L119.8,458.2Z M127.1,458.2 L127.8,455.4 L129.6,450.2 L131.3,452.0 L133.0,455.4 L133.6,458.2Z M134.2,458.2 L135.0,454.6 L136.4,457.2 L136.6,458.2Z M138.1,458.2 L138.1,458.0 L139.3,453.7 L140.6,456.3 L141.6,452.8 L142.8,455.4 L144.0,452.0 L145.4,456.3 L147.2,453.7 L148.9,447.6 L150.7,439.8 L152.4,438.0 L154.1,439.8 L155.5,441.5 L156.7,458.0 L156.8,458.2Z M161.0,458.2 L161.1,458.0 L162.5,451.1 L164.2,445.0 L165.4,445.0 L167.2,445.9 L168.9,444.1 L170.7,451.1 L171.9,449.3 L172.9,446.7 L174.1,450.2 L175.3,452.8 L176.7,449.3 L178.1,448.5 L179.3,452.8 L180.6,450.2 L182.0,440.7 L183.3,437.2 L184.6,444.1 L186.3,446.7 L188.0,448.5 L189.8,447.6 L191.5,445.5 L193.3,446.7 L195.0,452.8 L196.7,455.4 L199.3,457.2 L202.0,452.8 L203.7,448.5 L205.4,447.6 L207.2,446.7 L208.4,439.8 L209.8,437.2 L211.5,440.7 L213.3,448.5 L214.7,457.2 L215.4,458.2Z M221.6,458.2 L222.0,458.0 L223.7,456.3 L225.1,457.2 L225.8,458.2Z M229.7,458.2 L229.8,458.0 L230.0,457.2 L231.7,451.1 L233.5,447.6 L235.2,449.3 L237.0,445.9 L238.7,440.7 L239.6,439.3 L240.8,440.7 L242.5,441.5 L243.9,451.1 L245.3,458.0 L245.4,458.2Z M247.6,458.2 L248.8,454.6 L250.0,456.3 L250.9,458.2Z M253.0,458.2 L253.5,457.2 L254.2,458.2Z M258.3,458.2 L258.3,458.0 L259.6,447.6 L261.3,442.4 L262.7,444.1 L263.9,443.3 L265.7,447.6 L267.4,450.2 L269.1,445.0 L270.3,449.3 L271.7,451.1 L273.1,452.8 L274.9,456.3 L275.5,458.2Z M282.1,458.2 L282.2,458.0 L283.0,454.6 L284.8,451.4 L286.5,451.4 L288.8,452.0 L290.0,457.2 L290.5,458.2Z M307.9,458.2 L308.3,457.2 L309.7,452.8 L310.3,458.0 L310.5,458.2Z M311.5,458.2 L312.1,454.6 L313.1,452.0 L314.3,455.4 L315.0,458.2Z M324.0,458.2 L325.0,452.8 L326.4,450.2 L327.6,453.7 L328.8,450.2 L330.2,454.6 L331.6,458.0 L331.6,458.2Z M347.3,458.2 L348.1,456.0 L348.9,458.2Z M376.3,458.2 L376.3,458.0 L377.2,457.2 L377.7,458.2Z M388.7,458.2 L389.7,455.4 L390.7,449.3 L392.0,445.5 L393.2,446.7 L394.2,452.0 L395.4,455.4 L396.3,458.0 L396.3,458.2Z M402.9,458.2 L402.9,458.0 L404.1,455.4 L405.3,453.7 L406.7,454.6 L408.1,453.2 L409.3,458.0 L409.4,458.2Z M423.5,458.2 L423.5,458.0 L424.9,457.2 L425.2,458.2Z M427.9,458.2 L428.7,457.2 L430.4,454.6 L431.8,455.4 L433.0,458.0 L433.2,458.2Z M444.0,458.2 L444.3,456.3 L445.2,452.8 L446.4,454.6 L447.5,455.4 L448.5,451.1 L449.6,453.7 L450.6,458.0 L450.6,458.2Z M460.3,458.2 L460.9,456.3 L462.1,453.7 L463.1,456.3 L464.3,450.7 L465.2,457.2 L465.8,458.2Z M473.2,458.2 L473.6,457.2 L474.8,456.3 L476.5,456.7 L478.3,457.2 L478.7,458.2Z M482.2,458.2 L482.3,458.0 L483.5,457.7 L484.7,457.2 L486.1,454.6 L487.0,452.0 L487.8,446.7 L488.7,452.8 L490.4,456.3 L491.7,458.0 L492.3,458.2Z M499.2,458.2 L499.7,457.2 L500.0,452.7 L501.3,450.8 L502.6,446.9 L503.7,450.8 L504.5,458.2Z M508.1,458.2 L509.8,457.3 L511.1,454.0 L512.0,452.1 L512.8,457.3 L512.9,458.2Z M514.1,458.2 L514.3,456.7 L515.0,458.2Z M517.1,458.2 L517.6,458.0 L518.5,456.7 L519.2,458.2Z M521.3,458.2 L521.5,457.3 L522.8,455.4 L524.1,454.0 L525.4,452.7 L526.7,451.4 L527.7,455.4 L528.4,458.2Z M530.7,458.2 L531.3,457.3 L532.6,454.7 L534.6,452.1 L535.9,454.0 L537.2,457.3 L537.9,458.2Z M542.4,458.2 L543.0,451.4 L544.1,457.3 L544.4,458.2Z " fill="#74b0dc" stroke="#2c6fab" stroke-width="0.9" stroke-linejoin="round"/>
<path d="M53.3,458.2 L53.9,460.7 L54.2,458.2Z M64.7,458.2 L65.2,461.5 L66.1,458.9 L67.5,461.5 L68.1,458.2Z M100.2,458.2 L100.9,458.9 L102.6,465.0 L104.0,458.9 L104.1,458.2Z M119.8,458.2 L120.9,459.8 L122.6,465.9 L124.3,462.4 L125.6,464.1 L127.0,458.9 L127.1,458.2Z M133.6,458.2 L133.9,459.8 L134.2,458.2Z M136.6,458.2 L137.1,461.5 L138.1,458.2Z M156.8,458.2 L157.6,462.4 L158.5,473.7 L159.7,463.3 L161.0,458.2Z M215.4,458.2 L215.9,458.9 L217.1,466.7 L218.5,461.5 L220.2,458.9 L221.6,458.2Z M225.8,458.2 L226.3,458.9 L228.0,460.7 L229.7,458.2Z M245.4,458.2 L246.5,461.5 L247.4,458.9 L247.6,458.2Z M250.9,458.2 L251.2,458.9 L252.3,459.8 L253.0,458.2Z M254.2,458.2 L254.7,458.9 L256.1,459.8 L257.5,460.7 L258.3,458.2Z M275.5,458.2 L275.6,458.4 L276.6,464.1 L277.8,462.4 L279.6,461.5 L281.3,459.8 L282.1,458.2Z M290.5,458.2 L290.9,458.9 L292.6,461.5 L294.3,464.1 L296.1,465.9 L297.8,466.7 L298.7,465.0 L299.6,468.5 L300.4,465.9 L301.7,469.3 L302.2,471.1 L303.0,466.7 L304.4,462.4 L305.7,464.1 L306.9,460.7 L307.9,458.2Z M310.5,458.2 L311.4,458.9 L311.5,458.2Z M315.0,458.2 L315.2,458.9 L317.0,462.4 L318.7,464.1 L320.4,463.3 L322.2,460.7 L323.9,458.9 L324.0,458.2Z M331.6,458.2 L332.3,462.4 L333.3,466.7 L334.6,464.1 L335.4,468.5 L336.8,465.9 L338.0,470.2 L339.3,472.0 L340.3,470.2 L341.5,475.4 L342.7,469.3 L344.1,462.4 L345.9,459.8 L347.3,458.4 L347.3,458.2Z M348.9,458.2 L349.0,458.4 L350.2,465.0 L352.0,466.7 L353.7,465.0 L355.4,470.2 L357.2,468.5 L358.9,472.0 L360.7,468.5 L362.4,470.2 L364.1,465.9 L365.9,468.5 L367.6,469.3 L369.3,472.0 L371.1,475.4 L372.3,484.1 L373.7,475.4 L375.1,463.3 L376.3,458.2Z M377.7,458.2 L378.0,458.9 L379.8,460.7 L381.5,462.4 L383.3,465.0 L385.0,466.4 L386.7,464.1 L388.5,458.9 L388.7,458.2Z M396.3,458.2 L397.2,463.3 L398.4,472.0 L399.4,478.0 L400.7,472.0 L401.5,465.0 L402.9,458.2Z M409.4,458.2 L410.2,461.5 L411.1,471.1 L412.8,469.3 L414.6,467.6 L416.3,464.1 L418.0,466.7 L419.8,463.3 L420.0,458.9 L421.4,464.1 L422.6,465.0 L423.5,458.2Z M425.2,458.2 L426.1,460.7 L427.3,458.9 L427.9,458.2Z M433.2,458.2 L434.3,459.4 L435.7,463.3 L436.5,468.5 L437.7,475.4 L438.8,482.4 L440.0,472.8 L440.9,464.1 L442.3,465.9 L443.5,460.7 L444.0,458.2Z M450.6,458.2 L451.3,462.4 L452.2,471.1 L453.4,468.5 L454.8,466.7 L456.5,465.9 L458.3,464.1 L459.7,460.7 L460.3,458.2Z M465.8,458.2 L466.6,459.8 L467.8,465.9 L469.2,466.7 L470.8,465.0 L472.2,460.7 L473.2,458.2Z M478.7,458.2 L479.5,459.8 L480.9,463.3 L482.2,458.2Z M492.3,458.2 L493.0,458.4 L493.9,465.0 L494.8,469.9 L496.2,465.9 L497.4,461.5 L498.6,459.8 L499.2,458.2Z M504.5,458.2 L504.6,458.4 L505.5,462.5 L506.5,459.3 L507.8,458.4 L508.1,458.2Z M512.9,458.2 L513.4,461.9 L514.1,458.2Z M515.0,458.2 L515.4,459.3 L516.3,458.6 L517.1,458.2Z M519.2,458.2 L519.6,458.9 L520.6,460.6 L521.3,458.2Z M528.4,458.2 L528.4,458.4 L529.3,459.3 L530.3,458.9 L530.7,458.2Z M537.9,458.2 L538.5,458.9 L539.1,461.9 L540.4,465.8 L541.5,462.5 L542.4,458.6 L542.4,458.2Z M544.4,458.2 L545.0,459.9 L545.9,466.4 L547.0,470.4 L548.0,474.3 L548.9,476.9 L549.8,482.7 L550.9,476.9 L551.9,471.7 L552.8,469.0 L553.7,466.2 L554.5,470.4 L555.4,479.5 L556.3,480.1 L557.4,482.7 L558.3,486.0 L559.3,480.8 L560.3,483.4 L561.3,478.2 L562.3,475.6 L563.3,473.6 L563.9,469.7 L565.0,476.9 L565.9,473.0 L566.8,474.3 L567.8,473.6 L568.9,486.0 L569.5,496.4 L570.2,497.1 L570.2,458.2Z " fill="#f2a283" stroke="#c8653a" stroke-width="0.9" stroke-linejoin="round"/>
<text x="61.0" y="434.0" font-size="20" text-anchor="middle" font-weight="bold" fill="#000">(d)</text>
<polyline points="46.4,557.8 59.2,550.5 72.0,567.1 84.8,562.7 97.6,552.5 110.4,553.2 123.2,561.0 136.0,547.6 148.8,530.6 161.6,564.7 174.4,569.5 187.2,555.4 200.0,569.5 212.8,554.9 225.6,554.7 238.4,537.4 251.2,560.3 264.0,548.8 276.8,559.8 289.6,539.1 302.4,556.6 315.2,545.9 328.0,541.5 340.8,544.0 353.6,537.9 366.4,538.1 379.2,539.3 392.0,531.3 404.8,534.7 417.6,555.2 430.4,525.0 443.2,538.1 456.0,532.6 468.8,544.9 481.6,547.7 494.4,545.9 507.2,548.3 520.0,535.5 532.8,550.4 545.6,524.8 558.4,512.3" fill="none" stroke="#8e0a30" stroke-width="2.4" stroke-linejoin="round"/>
<circle cx="46.4" cy="557.8" r="2.75" fill="#c0105a" stroke="#111" stroke-width="1.2"/>
<circle cx="59.2" cy="550.5" r="2.75" fill="#c0105a" stroke="#111" stroke-width="1.2"/>
<circle cx="72.0" cy="567.1" r="2.75" fill="#c0105a" stroke="#111" stroke-width="1.2"/>
<circle cx="84.8" cy="562.7" r="2.75" fill="#c0105a" stroke="#111" stroke-width="1.2"/>
<circle cx="97.6" cy="552.5" r="2.75" fill="#c0105a" stroke="#111" stroke-width="1.2"/>
<circle cx="110.4" cy="553.2" r="2.75" fill="#c0105a" stroke="#111" stroke-width="1.2"/>
<circle cx="123.2" cy="561.0" r="2.75" fill="#c0105a" stroke="#111" stroke-width="1.2"/>
<circle cx="136.0" cy="547.6" r="2.75" fill="#c0105a" stroke="#111" stroke-width="1.2"/>
<circle cx="148.8" cy="530.6" r="2.75" fill="#c0105a" stroke="#111" stroke-width="1.2"/>
<circle cx="161.6" cy="564.7" r="2.75" fill="#c0105a" stroke="#111" stroke-width="1.2"/>
<circle cx="174.4" cy="569.5" r="2.75" fill="#c0105a" stroke="#111" stroke-width="1.2"/>
<circle cx="187.2" cy="555.4" r="2.75" fill="#c0105a" stroke="#111" stroke-width="1.2"/>
<circle cx="200.0" cy="569.5" r="2.75" fill="#c0105a" stroke="#111" stroke-width="1.2"/>
<circle cx="212.8" cy="554.9" r="2.75" fill="#c0105a" stroke="#111" stroke-width="1.2"/>
<circle cx="225.6" cy="554.7" r="2.75" fill="#c0105a" stroke="#111" stroke-width="1.2"/>
<circle cx="238.4" cy="537.4" r="2.75" fill="#c0105a" stroke="#111" stroke-width="1.2"/>
<circle cx="251.2" cy="560.3" r="2.75" fill="#c0105a" stroke="#111" stroke-width="1.2"/>
<circle cx="264.0" cy="548.8" r="2.75" fill="#c0105a" stroke="#111" stroke-width="1.2"/>
<circle cx="276.8" cy="559.8" r="2.75" fill="#c0105a" stroke="#111" stroke-width="1.2"/>
<circle cx="289.6" cy="539.1" r="2.75" fill="#c0105a" stroke="#111" stroke-width="1.2"/>
<circle cx="302.4" cy="556.6" r="2.75" fill="#c0105a" stroke="#111" stroke-width="1.2"/>
<circle cx="315.2" cy="545.9" r="2.75" fill="#c0105a" stroke="#111" stroke-width="1.2"/>
<circle cx="328.0" cy="541.5" r="2.75" fill="#c0105a" stroke="#111" stroke-width="1.2"/>
<circle cx="340.8" cy="544.0" r="2.75" fill="#c0105a" stroke="#111" stroke-width="1.2"/>
<circle cx="353.6" cy="537.9" r="2.75" fill="#c0105a" stroke="#111" stroke-width="1.2"/>
<circle cx="366.4" cy="538.1" r="2.75" fill="#c0105a" stroke="#111" stroke-width="1.2"/>
<circle cx="379.2" cy="539.3" r="2.75" fill="#c0105a" stroke="#111" stroke-width="1.2"/>
<circle cx="392.0" cy="531.3" r="2.75" fill="#c0105a" stroke="#111" stroke-width="1.2"/>
<circle cx="404.8" cy="534.7" r="2.75" fill="#c0105a" stroke="#111" stroke-width="1.2"/>
<circle cx="417.6" cy="555.2" r="2.75" fill="#c0105a" stroke="#111" stroke-width="1.2"/>
<circle cx="430.4" cy="525.0" r="2.75" fill="#c0105a" stroke="#111" stroke-width="1.2"/>
<circle cx="443.2" cy="538.1" r="2.75" fill="#c0105a" stroke="#111" stroke-width="1.2"/>
<circle cx="456.0" cy="532.6" r="2.75" fill="#c0105a" stroke="#111" stroke-width="1.2"/>
<circle cx="468.8" cy="544.9" r="2.75" fill="#c0105a" stroke="#111" stroke-width="1.2"/>
<circle cx="481.6" cy="547.7" r="2.75" fill="#c0105a" stroke="#111" stroke-width="1.2"/>
<circle cx="494.4" cy="545.9" r="2.75" fill="#c0105a" stroke="#111" stroke-width="1.2"/>
<circle cx="507.2" cy="548.3" r="2.75" fill="#c0105a" stroke="#111" stroke-width="1.2"/>
<circle cx="520.0" cy="535.5" r="2.75" fill="#c0105a" stroke="#111" stroke-width="1.2"/>
<circle cx="532.8" cy="550.4" r="2.75" fill="#c0105a" stroke="#111" stroke-width="1.2"/>
<circle cx="545.6" cy="524.8" r="2.75" fill="#c0105a" stroke="#111" stroke-width="1.2"/>
<circle cx="558.4" cy="512.3" r="2.75" fill="#c0105a" stroke="#111" stroke-width="1.2"/>
<text x="60.4" y="521.0" font-size="20" text-anchor="middle" font-weight="bold" fill="#000">(e)</text>
<line x1="46.2" y1="211.5" x2="46.2" y2="582.2" stroke="#8a8a8a" stroke-width="1.1"/>
<line x1="46.2" y1="306.0" x2="571.0" y2="306.0" stroke="#8a8a8a" stroke-width="1.8"/>
<line x1="46.2" y1="414.4" x2="571.0" y2="414.4" stroke="#383838" stroke-width="1.3"/>
<line x1="46.2" y1="501.0" x2="571.0" y2="501.0" stroke="#555" stroke-width="1.7"/>
<line x1="46.2" y1="582.2" x2="571.0" y2="582.2" stroke="#444" stroke-width="1.4"/>
<line x1="59.2" y1="414.4" x2="59.2" y2="416.2" stroke="#444" stroke-width="1.0"/>
<line x1="72.0" y1="414.4" x2="72.0" y2="416.2" stroke="#444" stroke-width="1.0"/>
<line x1="84.8" y1="414.4" x2="84.8" y2="416.2" stroke="#444" stroke-width="1.0"/>
<line x1="97.6" y1="414.4" x2="97.6" y2="416.2" stroke="#444" stroke-width="1.0"/>
<line x1="110.4" y1="414.4" x2="110.4" y2="416.2" stroke="#444" stroke-width="1.0"/>
<line x1="123.2" y1="414.4" x2="123.2" y2="416.2" stroke="#444" stroke-width="1.0"/>
<line x1="136.0" y1="414.4" x2="136.0" y2="416.2" stroke="#444" stroke-width="1.0"/>
<line x1="148.8" y1="414.4" x2="148.8" y2="416.2" stroke="#444" stroke-width="1.0"/>
<line x1="161.6" y1="414.4" x2="161.6" y2="416.2" stroke="#444" stroke-width="1.0"/>
<line x1="174.4" y1="414.4" x2="174.4" y2="416.2" stroke="#444" stroke-width="1.0"/>
<line x1="187.2" y1="414.4" x2="187.2" y2="416.2" stroke="#444" stroke-width="1.0"/>
<line x1="200.0" y1="414.4" x2="200.0" y2="416.2" stroke="#444" stroke-width="1.0"/>
<line x1="212.8" y1="414.4" x2="212.8" y2="416.2" stroke="#444" stroke-width="1.0"/>
<line x1="225.6" y1="414.4" x2="225.6" y2="416.2" stroke="#444" stroke-width="1.0"/>
<line x1="238.4" y1="414.4" x2="238.4" y2="416.2" stroke="#444" stroke-width="1.0"/>
<line x1="251.2" y1="414.4" x2="251.2" y2="416.2" stroke="#444" stroke-width="1.0"/>
<line x1="264.0" y1="414.4" x2="264.0" y2="416.2" stroke="#444" stroke-width="1.0"/>
<line x1="276.8" y1="414.4" x2="276.8" y2="416.2" stroke="#444" stroke-width="1.0"/>
<line x1="289.6" y1="414.4" x2="289.6" y2="416.2" stroke="#444" stroke-width="1.0"/>
<line x1="302.4" y1="414.4" x2="302.4" y2="416.2" stroke="#444" stroke-width="1.0"/>
<line x1="315.2" y1="414.4" x2="315.2" y2="416.2" stroke="#444" stroke-width="1.0"/>
<line x1="328.0" y1="414.4" x2="328.0" y2="416.2" stroke="#444" stroke-width="1.0"/>
<line x1="340.8" y1="414.4" x2="340.8" y2="416.2" stroke="#444" stroke-width="1.0"/>
<line x1="353.6" y1="414.4" x2="353.6" y2="416.2" stroke="#444" stroke-width="1.0"/>
<line x1="366.4" y1="414.4" x2="366.4" y2="416.2" stroke="#444" stroke-width="1.0"/>
<line x1="379.2" y1="414.4" x2="379.2" y2="416.2" stroke="#444" stroke-width="1.0"/>
<line x1="392.0" y1="414.4" x2="392.0" y2="416.2" stroke="#444" stroke-width="1.0"/>
<line x1="404.8" y1="414.4" x2="404.8" y2="416.2" stroke="#444" stroke-width="1.0"/>
<line x1="417.6" y1="414.4" x2="417.6" y2="416.2" stroke="#444" stroke-width="1.0"/>
<line x1="430.4" y1="414.4" x2="430.4" y2="416.2" stroke="#444" stroke-width="1.0"/>
<line x1="443.2" y1="414.4" x2="443.2" y2="416.2" stroke="#444" stroke-width="1.0"/>
<line x1="456.0" y1="414.4" x2="456.0" y2="416.2" stroke="#444" stroke-width="1.0"/>
<line x1="468.8" y1="414.4" x2="468.8" y2="416.2" stroke="#444" stroke-width="1.0"/>
<line x1="481.6" y1="414.4" x2="481.6" y2="416.2" stroke="#444" stroke-width="1.0"/>
<line x1="494.4" y1="414.4" x2="494.4" y2="416.2" stroke="#444" stroke-width="1.0"/>
<line x1="507.2" y1="414.4" x2="507.2" y2="416.2" stroke="#444" stroke-width="1.0"/>
<line x1="520.0" y1="414.4" x2="520.0" y2="416.2" stroke="#444" stroke-width="1.0"/>
<line x1="532.8" y1="414.4" x2="532.8" y2="416.2" stroke="#444" stroke-width="1.0"/>
<line x1="545.6" y1="414.4" x2="545.6" y2="416.2" stroke="#444" stroke-width="1.0"/>
<line x1="558.4" y1="414.4" x2="558.4" y2="416.2" stroke="#444" stroke-width="1.0"/>
<line x1="59.2" y1="501.0" x2="59.2" y2="502.8" stroke="#444" stroke-width="1.0"/>
<line x1="72.0" y1="501.0" x2="72.0" y2="502.8" stroke="#444" stroke-width="1.0"/>
<line x1="84.8" y1="501.0" x2="84.8" y2="502.8" stroke="#444" stroke-width="1.0"/>
<line x1="97.6" y1="501.0" x2="97.6" y2="502.8" stroke="#444" stroke-width="1.0"/>
<line x1="110.4" y1="501.0" x2="110.4" y2="502.8" stroke="#444" stroke-width="1.0"/>
<line x1="123.2" y1="501.0" x2="123.2" y2="502.8" stroke="#444" stroke-width="1.0"/>
<line x1="136.0" y1="501.0" x2="136.0" y2="502.8" stroke="#444" stroke-width="1.0"/>
<line x1="148.8" y1="501.0" x2="148.8" y2="502.8" stroke="#444" stroke-width="1.0"/>
<line x1="161.6" y1="501.0" x2="161.6" y2="502.8" stroke="#444" stroke-width="1.0"/>
<line x1="174.4" y1="501.0" x2="174.4" y2="502.8" stroke="#444" stroke-width="1.0"/>
<line x1="187.2" y1="501.0" x2="187.2" y2="502.8" stroke="#444" stroke-width="1.0"/>
<line x1="200.0" y1="501.0" x2="200.0" y2="502.8" stroke="#444" stroke-width="1.0"/>
<line x1="212.8" y1="501.0" x2="212.8" y2="502.8" stroke="#444" stroke-width="1.0"/>
<line x1="225.6" y1="501.0" x2="225.6" y2="502.8" stroke="#444" stroke-width="1.0"/>
<line x1="238.4" y1="501.0" x2="238.4" y2="502.8" stroke="#444" stroke-width="1.0"/>
<line x1="251.2" y1="501.0" x2="251.2" y2="502.8" stroke="#444" stroke-width="1.0"/>
<line x1="264.0" y1="501.0" x2="264.0" y2="502.8" stroke="#444" stroke-width="1.0"/>
<line x1="276.8" y1="501.0" x2="276.8" y2="502.8" stroke="#444" stroke-width="1.0"/>
<line x1="289.6" y1="501.0" x2="289.6" y2="502.8" stroke="#444" stroke-width="1.0"/>
<line x1="302.4" y1="501.0" x2="302.4" y2="502.8" stroke="#444" stroke-width="1.0"/>
<line x1="315.2" y1="501.0" x2="315.2" y2="502.8" stroke="#444" stroke-width="1.0"/>
<line x1="328.0" y1="501.0" x2="328.0" y2="502.8" stroke="#444" stroke-width="1.0"/>
<line x1="340.8" y1="501.0" x2="340.8" y2="502.8" stroke="#444" stroke-width="1.0"/>
<line x1="353.6" y1="501.0" x2="353.6" y2="502.8" stroke="#444" stroke-width="1.0"/>
<line x1="366.4" y1="501.0" x2="366.4" y2="502.8" stroke="#444" stroke-width="1.0"/>
<line x1="379.2" y1="501.0" x2="379.2" y2="502.8" stroke="#444" stroke-width="1.0"/>
<line x1="392.0" y1="501.0" x2="392.0" y2="502.8" stroke="#444" stroke-width="1.0"/>
<line x1="404.8" y1="501.0" x2="404.8" y2="502.8" stroke="#444" stroke-width="1.0"/>
<line x1="417.6" y1="501.0" x2="417.6" y2="502.8" stroke="#444" stroke-width="1.0"/>
<line x1="430.4" y1="501.0" x2="430.4" y2="502.8" stroke="#444" stroke-width="1.0"/>
<line x1="443.2" y1="501.0" x2="443.2" y2="502.8" stroke="#444" stroke-width="1.0"/>
<line x1="456.0" y1="501.0" x2="456.0" y2="502.8" stroke="#444" stroke-width="1.0"/>
<line x1="468.8" y1="501.0" x2="468.8" y2="502.8" stroke="#444" stroke-width="1.0"/>
<line x1="481.6" y1="501.0" x2="481.6" y2="502.8" stroke="#444" stroke-width="1.0"/>
<line x1="494.4" y1="501.0" x2="494.4" y2="502.8" stroke="#444" stroke-width="1.0"/>
<line x1="507.2" y1="501.0" x2="507.2" y2="502.8" stroke="#444" stroke-width="1.0"/>
<line x1="520.0" y1="501.0" x2="520.0" y2="502.8" stroke="#444" stroke-width="1.0"/>
<line x1="532.8" y1="501.0" x2="532.8" y2="502.8" stroke="#444" stroke-width="1.0"/>
<line x1="545.6" y1="501.0" x2="545.6" y2="502.8" stroke="#444" stroke-width="1.0"/>
<line x1="558.4" y1="501.0" x2="558.4" y2="502.8" stroke="#444" stroke-width="1.0"/>
<line x1="41.2" y1="230.4" x2="46.2" y2="230.4" stroke="#444" stroke-width="1.1"/>
<text x="35.5" y="235.4" font-size="14.5" text-anchor="end" font-weight="normal" fill="#000" stroke="#000" stroke-width="0.35">34</text>
<line x1="41.2" y1="255.7" x2="46.2" y2="255.7" stroke="#444" stroke-width="1.1"/>
<text x="35.5" y="260.7" font-size="14.5" text-anchor="end" font-weight="normal" fill="#000" stroke="#000" stroke-width="0.35">32</text>
<line x1="41.2" y1="280.9" x2="46.2" y2="280.9" stroke="#444" stroke-width="1.1"/>
<text x="35.5" y="285.9" font-size="14.5" text-anchor="end" font-weight="normal" fill="#000" stroke="#000" stroke-width="0.35">30</text>
<line x1="41.2" y1="306.0" x2="46.2" y2="306.0" stroke="#444" stroke-width="1.1"/>
<line x1="41.2" y1="333.3" x2="46.2" y2="333.3" stroke="#444" stroke-width="1.1"/>
<text x="35.5" y="338.3" font-size="14.5" text-anchor="end" font-weight="normal" fill="#000" stroke="#000" stroke-width="0.35">45</text>
<line x1="41.2" y1="360.6" x2="46.2" y2="360.6" stroke="#444" stroke-width="1.1"/>
<text x="35.5" y="365.6" font-size="14.5" text-anchor="end" font-weight="normal" fill="#000" stroke="#000" stroke-width="0.35">30</text>
<line x1="41.2" y1="387.9" x2="46.2" y2="387.9" stroke="#444" stroke-width="1.1"/>
<text x="35.5" y="392.9" font-size="14.5" text-anchor="end" font-weight="normal" fill="#000" stroke="#000" stroke-width="0.35">15</text>
<line x1="41.2" y1="436.7" x2="46.2" y2="436.7" stroke="#444" stroke-width="1.1"/>
<text x="35.5" y="441.7" font-size="14.5" text-anchor="end" font-weight="normal" fill="#000" stroke="#000" stroke-width="0.35">2</text>
<line x1="41.2" y1="458.2" x2="46.2" y2="458.2" stroke="#444" stroke-width="1.1"/>
<text x="35.5" y="463.2" font-size="14.5" text-anchor="end" font-weight="normal" fill="#000" stroke="#000" stroke-width="0.35">0</text>
<line x1="41.2" y1="479.5" x2="46.2" y2="479.5" stroke="#444" stroke-width="1.1"/>
<text x="35.5" y="484.5" font-size="14.5" text-anchor="end" font-weight="normal" fill="#000" stroke="#000" stroke-width="0.35">-2</text>
<line x1="41.2" y1="510.8" x2="46.2" y2="510.8" stroke="#444" stroke-width="1.1"/>
<text x="35.5" y="515.8" font-size="14.5" text-anchor="end" font-weight="normal" fill="#000" stroke="#000" stroke-width="0.35">40</text>
<line x1="41.2" y1="529.0" x2="46.2" y2="529.0" stroke="#444" stroke-width="1.1"/>
<text x="35.5" y="534.0" font-size="14.5" text-anchor="end" font-weight="normal" fill="#000" stroke="#000" stroke-width="0.35">30</text>
<line x1="41.2" y1="547.4" x2="46.2" y2="547.4" stroke="#444" stroke-width="1.1"/>
<text x="35.5" y="552.4" font-size="14.5" text-anchor="end" font-weight="normal" fill="#000" stroke="#000" stroke-width="0.35">20</text>
<line x1="41.2" y1="565.8" x2="46.2" y2="565.8" stroke="#444" stroke-width="1.1"/>
<text x="35.5" y="570.8" font-size="14.5" text-anchor="end" font-weight="normal" fill="#000" stroke="#000" stroke-width="0.35">10</text>
<line x1="46.4" y1="582.2" x2="46.4" y2="587.5" stroke="#444" stroke-width="1.1"/>
<text x="46.4" y="605.0" font-size="14.5" text-anchor="middle" font-weight="normal" fill="#000" stroke="#000" stroke-width="0.35" textLength="35.4" lengthAdjust="spacingAndGlyphs">1980</text>
<line x1="110.4" y1="582.2" x2="110.4" y2="587.5" stroke="#444" stroke-width="1.1"/>
<text x="110.4" y="605.0" font-size="14.5" text-anchor="middle" font-weight="normal" fill="#000" stroke="#000" stroke-width="0.35" textLength="35.4" lengthAdjust="spacingAndGlyphs">1985</text>
<line x1="174.4" y1="582.2" x2="174.4" y2="587.5" stroke="#444" stroke-width="1.1"/>
<text x="174.4" y="605.0" font-size="14.5" text-anchor="middle" font-weight="normal" fill="#000" stroke="#000" stroke-width="0.35" textLength="35.4" lengthAdjust="spacingAndGlyphs">1990</text>
<line x1="238.4" y1="582.2" x2="238.4" y2="587.5" stroke="#444" stroke-width="1.1"/>
<text x="238.4" y="605.0" font-size="14.5" text-anchor="middle" font-weight="normal" fill="#000" stroke="#000" stroke-width="0.35" textLength="35.4" lengthAdjust="spacingAndGlyphs">1995</text>
<line x1="302.4" y1="582.2" x2="302.4" y2="587.5" stroke="#444" stroke-width="1.1"/>
<text x="302.4" y="605.0" font-size="14.5" text-anchor="middle" font-weight="normal" fill="#000" stroke="#000" stroke-width="0.35" textLength="35.4" lengthAdjust="spacingAndGlyphs">2000</text>
<line x1="366.4" y1="582.2" x2="366.4" y2="587.5" stroke="#444" stroke-width="1.1"/>
<text x="366.4" y="605.0" font-size="14.5" text-anchor="middle" font-weight="normal" fill="#000" stroke="#000" stroke-width="0.35" textLength="35.4" lengthAdjust="spacingAndGlyphs">2005</text>
<line x1="430.4" y1="582.2" x2="430.4" y2="587.5" stroke="#444" stroke-width="1.1"/>
<text x="430.4" y="605.0" font-size="14.5" text-anchor="middle" font-weight="normal" fill="#000" stroke="#000" stroke-width="0.35" textLength="35.4" lengthAdjust="spacingAndGlyphs">2010</text>
<line x1="494.4" y1="582.2" x2="494.4" y2="587.5" stroke="#444" stroke-width="1.1"/>
<text x="494.4" y="605.0" font-size="14.5" text-anchor="middle" font-weight="normal" fill="#000" stroke="#000" stroke-width="0.35" textLength="35.4" lengthAdjust="spacingAndGlyphs">2015</text>
<line x1="558.4" y1="582.2" x2="558.4" y2="587.5" stroke="#444" stroke-width="1.1"/>
<text x="558.4" y="605.0" font-size="14.5" text-anchor="middle" font-weight="normal" fill="#000" stroke="#000" stroke-width="0.35" textLength="35.4" lengthAdjust="spacingAndGlyphs">2020</text>
<text x="308.4" y="622.5" font-size="15.5" text-anchor="middle" font-weight="normal" fill="#000" stroke="#000" stroke-width="0.35" textLength="42.5" lengthAdjust="spacingAndGlyphs">Years</text>
<text x="12.8" y="259.2" font-size="15.5" text-anchor="middle" font-weight="normal" fill="#000" stroke="#000" stroke-width="0.35" transform="rotate(-90 12.8 259.2)" textLength="72" lengthAdjust="spacingAndGlyphs">Tmax(°C)</text>
<text x="12.5" y="364.0" font-size="15.5" text-anchor="middle" font-weight="normal" fill="#000" stroke="#000" stroke-width="0.35" transform="rotate(-90 12.5 364.0)" textLength="109" lengthAdjust="spacingAndGlyphs">%Pantanal HW</text>
<text x="16.4" y="458.4" font-size="16" text-anchor="middle" font-weight="normal" fill="#000" stroke="#000" stroke-width="0.35" transform="rotate(-90 16.4 458.4)" textLength="23.5" lengthAdjust="spacingAndGlyphs">SPI</text>
<text x="12.6" y="541.5" font-size="16" text-anchor="middle" font-weight="normal" fill="#000" stroke="#000" stroke-width="0.35" transform="rotate(-90 12.6 541.5)" textLength="27" lengthAdjust="spacingAndGlyphs">FWI</text>
</svg>
</body></html>
